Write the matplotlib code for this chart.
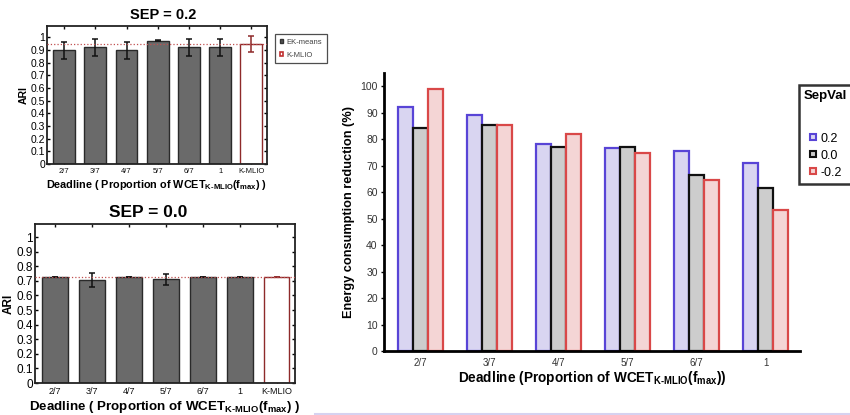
import matplotlib
matplotlib.use("Agg")
import matplotlib.pyplot as plt
import numpy as np
from matplotlib.patches import Patch
from matplotlib.lines import Line2D

plt.rcParams['font.family'] = ['Liberation Sans', 'DejaVu Sans']
plt.rcParams['mathtext.fontset'] = 'custom'
plt.rcParams['mathtext.rm'] = 'Liberation Sans:bold'
plt.rcParams['mathtext.bf'] = 'Liberation Sans:bold'
plt.rcParams['mathtext.it'] = 'Liberation Sans:bold'
plt.rcParams['mathtext.default'] = 'rm'

# ---------------- data ----------------
ari_labels = ["2/7", "3/7", "4/7", "5/7", "6/7", "1", "K-MLIO"]
ari_sep02 = [0.897, 0.921, 0.897, 0.974, 0.921, 0.921, 0.946]
ari_sep02_err = [0.068, 0.068, 0.068, 0.002, 0.068, 0.068, 0.062]
ari_sep02_ref = 0.946
ari_sep00 = [0.728, 0.705, 0.728, 0.710, 0.728, 0.728, 0.728]
ari_sep00_err = [0.002, 0.048, 0.002, 0.038, 0.002, 0.002, 0.002]
ari_sep00_ref = 0.728

deadlines = ["2/7", "3/7", "4/7", "5/7", "6/7", "1"]
sepvals = ["0.2", "0.0", "-0.2"]
energy_02 = [92.0, 89.0, 78.0, 76.5, 75.7, 71.0]
energy_00 = [84.4, 85.4, 77.0, 77.0, 66.3, 61.5]
energy_m02 = [99.1, 85.2, 81.9, 74.8, 64.4, 53.2]

W, H = 850, 415
fig = plt.figure(figsize=(W / 100, H / 100), dpi=100)


def px_axes(l, t, r, b):
    return fig.add_axes([l / W, (H - b) / H, (r - l) / W, (b - t) / H])


xlab = r'Deadline ( Proportion of WCET$_{\mathrm{K\text{-}MLIO}}$(f$_{\mathrm{max}}$) )'


def ari_panel(ax, vals, errs, ref, title, fs_tick, fs_xtick, fs_ylab, fs_xlab, fs_title, title_x):
    x = np.arange(len(ari_labels))
    n = len(ari_labels)
    colors = ['#6a6a6a'] * (n - 1) + ['white']
    edges = ['#2a2a2a'] * (n - 1) + ['#8e2a2a']
    ax.bar(x, vals, width=0.7, color=colors, edgecolor=edges, linewidth=1.0, zorder=2)
    ax.errorbar(x[:-1], vals[:-1], yerr=errs[:-1], fmt='none', ecolor='#111111',
                elinewidth=1.1, capsize=2.2, capthick=1.1, zorder=3)
    ax.errorbar(x[-1:], vals[-1:], yerr=errs[-1:], fmt='none', ecolor='#8e2a2a',
                elinewidth=1.1, capsize=2.2, capthick=1.1, zorder=3)
    ax.axhline(ref, color='#c05050', linestyle=':', linewidth=0.9, zorder=4)
    ax.set_xlim(-0.55, n - 0.5)
    ax.set_ylim(0, 1.09)
    ax.set_yticks(np.round(np.arange(0, 1.01, 0.1), 1))
    ax.set_yticklabels(['0'] + ['%.1f' % v for v in np.arange(0.1, 0.95, 0.1)] + ['1'])
    ax.set_xticks(x)
    ax.set_xticklabels(ari_labels)
    ax.tick_params(axis='y', labelsize=fs_tick, direction='in', length=2.5, width=1,
                   right=True, pad=1.5)
    ax.tick_params(axis='x', labelsize=fs_xtick, direction='in', length=2.5, width=1,
                   top=True, pad=3, colors='#111111')
    for s in ax.spines.values():
        s.set_linewidth(1.3)
        s.set_color('#222222')
    ax.set_ylabel('ARI', fontsize=fs_ylab, fontweight='bold', labelpad=1)
    ax.set_xlabel(xlab, fontsize=fs_xlab, fontweight='bold', labelpad=2)
    ax.set_title(title, fontsize=fs_title, fontweight='bold', pad=5, x=title_x)


ax1 = px_axes(47, 26, 267, 164)
ari_panel(ax1, ari_sep02, ari_sep02_err, ari_sep02_ref, 'SEP = 0.2', 7.5, 5.5, 7.5, 7.8, 10.5, 0.53)
leg1 = fig.legend(handles=[Patch(facecolor='#555555', edgecolor='#333333', label='EK-means'),
                           Patch(facecolor='white', edgecolor='#c03030', linewidth=1.2, label='K-MLIO')],
                  loc='upper left', bbox_to_anchor=(275 / W, (H - 34) / H), fontsize=5.5,
                  handlelength=0.5, handleheight=0.5, handletextpad=0.4, frameon=True,
                  fancybox=False, edgecolor='#222222', borderpad=0.6, labelspacing=0.8,
                  borderaxespad=0)
leg1.get_frame().set_linewidth(0.9)
for t in leg1.get_texts():
    t.set_color('#444444')

ax2 = px_axes(35, 224, 295, 383)
ari_panel(ax2, ari_sep00, ari_sep00_err, ari_sep00_ref, 'SEP = 0.0', 8.5, 6.5, 8.5, 9.6, 12.5, 0.435)

# ---------------- right panel ----------------
ax3 = px_axes(384, 73, 800, 351)
xg = np.arange(len(deadlines))
bw = 0.22
series = [
    (energy_02, '#d9d5f1', '#5844d6'),
    (energy_00, '#cdcdcd', '#111111'),
    (energy_m02, '#f4d5d5', '#d94848'),
]
for i, (vals, fc, ec) in enumerate(series):
    ax3.bar(xg + (i - 1) * bw, vals, width=bw, color=fc, edgecolor=ec, linewidth=1.6,
            zorder=2, label=sepvals[i])
ax3.set_xlim(-0.53, len(deadlines) - 0.5)
ax3.set_ylim(0, 105)
ax3.set_yticks(np.arange(0, 101, 10))
ax3.set_xticks(xg)
ax3.set_xticklabels(deadlines)
ax3.spines['top'].set_visible(False)
ax3.spines['right'].set_visible(False)
ax3.spines['left'].set_linewidth(2)
ax3.spines['bottom'].set_linewidth(2)
ax3.tick_params(axis='y', labelsize=7.5, direction='out', length=2.5, width=1, pad=2,
                labelcolor='#333333')
ax3.tick_params(axis='x', labelsize=7, direction='in', length=2, width=1, pad=5,
                labelcolor='#333333')
ax3.set_ylabel('Energy consumption reduction (%)', fontsize=9.2, fontweight='bold', labelpad=4)
ax3.set_xlabel(r'Deadline (Proportion of WCET$_{\mathrm{K\text{-}MLIO}}$(f$_{\mathrm{max}}$))',
               fontsize=9.8, fontweight='bold', labelpad=1)

handles = [Line2D([], [], linestyle='none', marker='s', markersize=4.2, markerfacecolor=fc,
                  markeredgecolor=ec, markeredgewidth=1.5, label=sepvals[i])
           for i, (_, fc, ec) in enumerate(series)]
leg2 = fig.legend(handles=handles, title='SepVal', loc='upper left',
                  bbox_to_anchor=(799 / W, (H - 85) / H), fontsize=9, title_fontsize=9.5,
                  frameon=True, fancybox=False, edgecolor='black', borderaxespad=0,
                  handlelength=0.5, handletextpad=0.35, labelspacing=0.4, borderpad=0.4)
leg2.get_title().set_fontweight('bold')
leg2.get_frame().set_linewidth(1.8)
leg2._legend_box.sep = 22

fig.add_artist(Line2D([315 / W, 1.0], [1.5 / H, 1.5 / H], color='#d6d2f0', linewidth=1.5))

fig.savefig('out.png', dpi=100)
